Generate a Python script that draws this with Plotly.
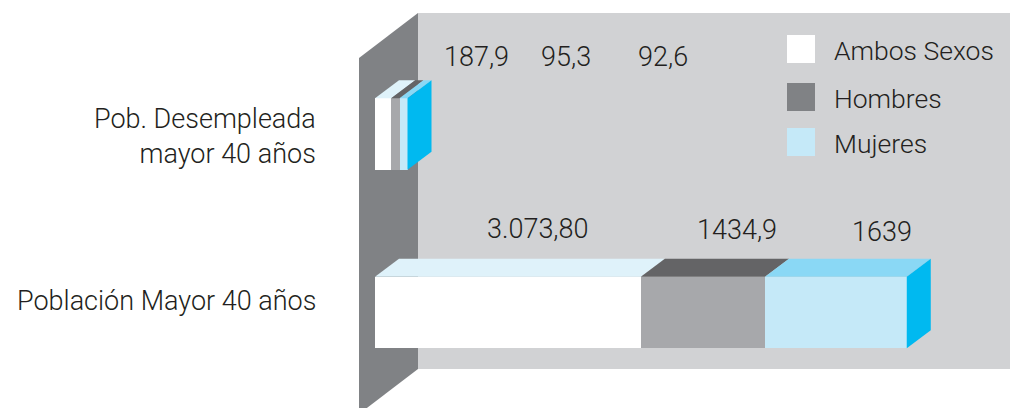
import numpy as np
import plotly.graph_objects as go

# ---- data -------------------------------------------------------------
categories = ["Pob. Desempleada<br>mayor 40 años", "Población Mayor 40 años"]
series_names = ["Ambos Sexos", "Hombres", "Mujeres"]
desempleada = [187.9, 95.3, 92.6]
poblacion = [3073.80, 1434.9, 1639]
value_labels_desempleada = ["187,9", "95,3", "92,6"]
value_labels_poblacion = ["3.073,80", "1434,9", "1639"]

# ---- styling ----------------------------------------------------------
W, H = 1010, 408
FONT = "Roboto, sans-serif"
WEIGHT = 300
TEXT_COLOR = "#231f20"
front_colors = ["#ffffff", "#a7a8ab", "#c5e9f8"]
top_colors = ["#dff2fa", "#646466", "#8ad8f5"]
side_color = "#00b9f0"
legend_colors = ["#ffffff", "#808285", "#c5e9f8"]
back_wall = "#d1d2d4"
side_wall = "#808285"

# horizontal scale: pixel where the value axis starts and px per unit
PX0 = 375.0
SCALE = 0.0865
DEPTH_PX = (24.0, -18.0)            # 3-D depth offset (pixels)
DEPTH_X = DEPTH_PX[0] / SCALE       # same offset in value units
BAR_CENTERS = [134.0, 312.5]        # vertical row of each bar (y axis in px rows)
BAR_WIDTH = 71.5

x_range = [(0 - PX0) / SCALE, (W - PX0) / SCALE]

fig = go.Figure()

rows = [desempleada, poblacion]

# front faces (stacked horizontal bars)
for i, name in enumerate(series_names):
    fig.add_trace(go.Bar(
        orientation="h",
        y=BAR_CENTERS,
        x=[r[i] for r in rows],
        width=BAR_WIDTH,
        marker=dict(color=front_colors[i], line=dict(width=0)),
        name=name,
        showlegend=False,
        hoverinfo="skip",
    ))

# top and side faces for the 3-D look
for yc, vals in zip(BAR_CENTERS, rows):
    ends = np.cumsum(vals)
    starts = ends - np.array(vals)
    ytop = yc - BAR_WIDTH / 2
    ybot = yc + BAR_WIDTH / 2
    for i in range(len(vals)):
        x0, x1 = starts[i], ends[i]
        fig.add_trace(go.Scatter(
            x=[x0, x1, x1 + DEPTH_X, x0 + DEPTH_X, x0],
            y=[ytop, ytop, ytop + DEPTH_PX[1], ytop + DEPTH_PX[1], ytop],
            mode="lines", fill="toself", fillcolor=top_colors[i],
            line=dict(width=0, color=top_colors[i]),
            showlegend=False, hoverinfo="skip",
        ))
    xe = ends[-1]
    fig.add_trace(go.Scatter(
        x=[xe, xe + DEPTH_X, xe + DEPTH_X, xe, xe],
        y=[ytop, ytop + DEPTH_PX[1], ybot + DEPTH_PX[1], ybot, ytop],
        mode="lines", fill="toself", fillcolor=side_color,
        line=dict(width=0, color=side_color),
        showlegend=False, hoverinfo="skip",
    ))


def px(x):
    return x / W


def py(y):
    return 1 - y / H


def font(size):
    return dict(family=FONT, size=size, color=TEXT_COLOR, weight=WEIGHT)


# walls of the chart box
shapes = [
    dict(type="rect", xref="paper", yref="paper",
         x0=px(418), x1=px(W), y0=py(369), y1=py(13),
         fillcolor=back_wall, line=dict(width=0), layer="below"),
    dict(type="path", xref="paper", yref="paper",
         path=f"M {px(359)},{py(58)} L {px(418)},{py(13)} L {px(418)},{py(369)} "
              f"L {px(359)},{py(414)} Z",
         fillcolor=side_wall, line=dict(width=0), layer="below"),
]

annotations = []

# legend
legend_tops = [35, 83, 128]
for name, color, top in zip(series_names, legend_colors, legend_tops):
    shapes.append(dict(type="rect", xref="paper", yref="paper",
                       x0=px(787), x1=px(815), y0=py(top + 28), y1=py(top),
                       fillcolor=color, line=dict(width=0)))
    annotations.append(dict(xref="paper", yref="paper", x=px(832), y=py(top + 15),
                            text=name, showarrow=False, xanchor="left", yanchor="middle",
                            font=font(26.5)))

# category labels
annotations.append(dict(xref="paper", yref="paper", x=px(318), y=py(137),
                        text=categories[0], showarrow=False, xanchor="right",
                        yanchor="middle", align="right", font=font(27)))
annotations.append(dict(xref="paper", yref="paper", x=px(318), y=py(301),
                        text=categories[1], showarrow=False, xanchor="right",
                        yanchor="middle", align="right", font=font(27)))

# value labels
for txt, cx in zip(value_labels_desempleada, [476, 566, 663]):
    annotations.append(dict(xref="paper", yref="paper", x=px(cx), y=py(57),
                            text=txt, showarrow=False, xanchor="center", yanchor="middle",
                            font=font(27)))
for txt, cx, cy in zip(value_labels_poblacion, [538, 737, 882], [229, 230, 232]):
    annotations.append(dict(xref="paper", yref="paper", x=px(cx), y=py(cy),
                            text=txt, showarrow=False, xanchor="center", yanchor="middle",
                            font=font(27)))

fig.update_layout(
    width=W, height=H,
    margin=dict(l=0, r=0, t=0, b=0),
    paper_bgcolor="white", plot_bgcolor="rgba(0,0,0,0)",
    barmode="stack", bargap=0,
    xaxis=dict(range=x_range, visible=False, fixedrange=True),
    yaxis=dict(range=[H, 0], visible=False, fixedrange=True),
    shapes=shapes, annotations=annotations,
    showlegend=False,
)

fig.write_html("out.html")
